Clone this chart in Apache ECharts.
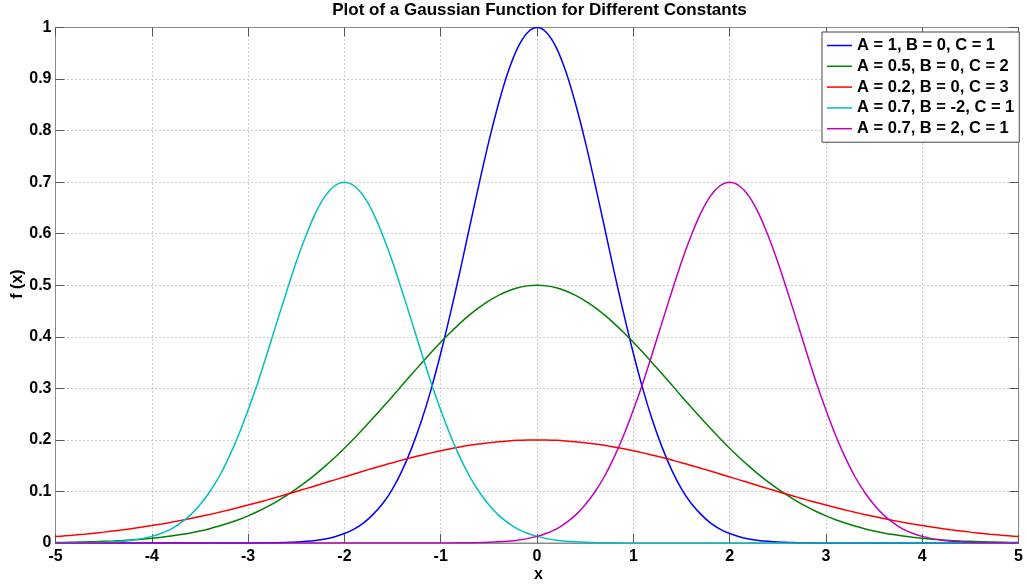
<!DOCTYPE html>
<html>
<head>
<meta charset="utf-8">
<script src="https://cdn.jsdelivr.net/npm/echarts@6/dist/echarts.min.js"></script>
<style>
  html, body { margin: 0; padding: 0; background: #fff; }
  #chart { width: 1026px; height: 585px; }
</style>
</head>
<body>
<div id="chart"></div>
<script>
// Sample positions along x (step 0.1 from -5 to 5), ten per row
const xs = [
  -5.0, -4.9, -4.8, -4.7, -4.6, -4.5, -4.4, -4.3, -4.2, -4.1,
  -4.0, -3.9, -3.8, -3.7, -3.6, -3.5, -3.4, -3.3, -3.2, -3.1,
  -3.0, -2.9, -2.8, -2.7, -2.6, -2.5, -2.4, -2.3, -2.2, -2.1,
  -2.0, -1.9, -1.8, -1.7, -1.6, -1.5, -1.4, -1.3, -1.2, -1.1,
  -1.0, -0.9, -0.8, -0.7, -0.6, -0.5, -0.4, -0.3, -0.2, -0.1,
   0.0,  0.1,  0.2,  0.3,  0.4,  0.5,  0.6,  0.7,  0.8,  0.9,
   1.0,  1.1,  1.2,  1.3,  1.4,  1.5,  1.6,  1.7,  1.8,  1.9,
   2.0,  2.1,  2.2,  2.3,  2.4,  2.5,  2.6,  2.7,  2.8,  2.9,
   3.0,  3.1,  3.2,  3.3,  3.4,  3.5,  3.6,  3.7,  3.8,  3.9,
   4.0,  4.1,  4.2,  4.3,  4.4,  4.5,  4.6,  4.7,  4.8,  4.9,
   5.0
];

// f(x) for A = 1, B = 0, C = 1
const blueVals = [
  0, 0, 0, 0, 0, 0, 0, 0, 0, 0,
  0, 0, 0, 0, 0, 0, 0, 0, 0, 0,
  0.0001, 0.0002, 0.0004, 0.0007, 0.0012, 0.0019, 0.0032, 0.0050, 0.0079, 0.0122,
  0.0183, 0.027, 0.039, 0.056, 0.077, 0.105, 0.141, 0.185, 0.237, 0.298,
  0.368, 0.445, 0.527, 0.613, 0.698, 0.779, 0.852, 0.914, 0.961, 0.990,
  1.000, 0.990, 0.961, 0.914, 0.852, 0.779, 0.698, 0.613, 0.527, 0.445,
  0.368, 0.298, 0.237, 0.185, 0.141, 0.105, 0.077, 0.056, 0.039, 0.027,
  0.0183, 0.0122, 0.0079, 0.0050, 0.0032, 0.0019, 0.0012, 0.0007, 0.0004, 0.0002,
  0.0001, 0, 0, 0, 0, 0, 0, 0, 0, 0,
  0, 0, 0, 0, 0, 0, 0, 0, 0, 0,
  0
];

// f(x) for A = 0.5, B = 0, C = 2
const greenVals = [
  0.0010, 0.0012, 0.0016, 0.0020, 0.0025, 0.0032, 0.0040, 0.0049, 0.0061, 0.0075,
  0.0092, 0.0112, 0.0135, 0.0163, 0.0196, 0.0234, 0.0278, 0.0329, 0.0387, 0.0452,
  0.0527, 0.0611, 0.0704, 0.0808, 0.0923, 0.1048, 0.1185, 0.1332, 0.1491, 0.1660,
  0.1839, 0.2028, 0.2224, 0.2428, 0.2636, 0.2849, 0.3063, 0.3277, 0.3488, 0.3695,
  0.3894, 0.4083, 0.4261, 0.4424, 0.4570, 0.4697, 0.4804, 0.4889, 0.4950, 0.4988,
  0.5000, 0.4988, 0.4950, 0.4889, 0.4804, 0.4697, 0.4570, 0.4424, 0.4261, 0.4083,
  0.3894, 0.3695, 0.3488, 0.3277, 0.3063, 0.2849, 0.2636, 0.2428, 0.2224, 0.2028,
  0.1839, 0.1660, 0.1491, 0.1332, 0.1185, 0.1048, 0.0923, 0.0808, 0.0704, 0.0611,
  0.0527, 0.0452, 0.0387, 0.0329, 0.0278, 0.0234, 0.0196, 0.0163, 0.0135, 0.0112,
  0.0092, 0.0075, 0.0061, 0.0049, 0.0040, 0.0032, 0.0025, 0.0020, 0.0016, 0.0012,
  0.0010
];

// f(x) for A = 0.2, B = 0, C = 3
const redVals = [
  0.0124, 0.0139, 0.0155, 0.0172, 0.0191, 0.0211, 0.0233, 0.0256, 0.0282, 0.0309,
  0.0338, 0.0369, 0.0402, 0.0437, 0.0474, 0.0513, 0.0554, 0.0596, 0.0641, 0.0688,
  0.0736, 0.0786, 0.0837, 0.0890, 0.0944, 0.0999, 0.1055, 0.1111, 0.1168, 0.1225,
  0.1282, 0.1339, 0.1395, 0.1451, 0.1505, 0.1558, 0.1609, 0.1658, 0.1704, 0.1748,
  0.1790, 0.1828, 0.1863, 0.1894, 0.1922, 0.1945, 0.1965, 0.1980, 0.1991, 0.1998,
  0.2000, 0.1998, 0.1991, 0.1980, 0.1965, 0.1945, 0.1922, 0.1894, 0.1863, 0.1828,
  0.1790, 0.1748, 0.1704, 0.1658, 0.1609, 0.1558, 0.1505, 0.1451, 0.1395, 0.1339,
  0.1282, 0.1225, 0.1168, 0.1111, 0.1055, 0.0999, 0.0944, 0.0890, 0.0837, 0.0786,
  0.0736, 0.0688, 0.0641, 0.0596, 0.0554, 0.0513, 0.0474, 0.0437, 0.0402, 0.0369,
  0.0338, 0.0309, 0.0282, 0.0256, 0.0233, 0.0211, 0.0191, 0.0172, 0.0155, 0.0139,
  0.0124
];

// f(x) for A = 0.7, B = -2, C = 1
const cyanVals = [
  0.0001, 0.0002, 0.0003, 0.0005, 0.0008, 0.0014, 0.0022, 0.0035, 0.0055, 0.0085,
  0.0128, 0.019, 0.027, 0.039, 0.054, 0.074, 0.099, 0.129, 0.166, 0.209,
  0.258, 0.311, 0.369, 0.429, 0.488, 0.545, 0.596, 0.640, 0.673, 0.693,
  0.700, 0.693, 0.673, 0.640, 0.596, 0.545, 0.488, 0.429, 0.369, 0.311,
  0.258, 0.209, 0.166, 0.129, 0.099, 0.074, 0.054, 0.039, 0.027, 0.019,
  0.0128, 0.0085, 0.0055, 0.0035, 0.0022, 0.0014, 0.0008, 0.0005, 0.0003, 0.0002,
  0.0001, 0, 0, 0, 0, 0, 0, 0, 0, 0,
  0, 0, 0, 0, 0, 0, 0, 0, 0, 0,
  0, 0, 0, 0, 0, 0, 0, 0, 0, 0,
  0, 0, 0, 0, 0, 0, 0, 0, 0, 0,
  0
];

// f(x) for A = 0.7, B = 2, C = 1
const magentaVals = [
  0, 0, 0, 0, 0, 0, 0, 0, 0, 0,
  0, 0, 0, 0, 0, 0, 0, 0, 0, 0,
  0, 0, 0, 0, 0, 0, 0, 0, 0, 0,
  0, 0, 0, 0, 0, 0, 0, 0, 0, 0,
  0.0001, 0.0002, 0.0003, 0.0005, 0.0008, 0.0014, 0.0022, 0.0035, 0.0055, 0.0085,
  0.0128, 0.019, 0.027, 0.039, 0.054, 0.074, 0.099, 0.129, 0.166, 0.209,
  0.258, 0.311, 0.369, 0.429, 0.488, 0.545, 0.596, 0.640, 0.673, 0.693,
  0.700, 0.693, 0.673, 0.640, 0.596, 0.545, 0.488, 0.429, 0.369, 0.311,
  0.258, 0.209, 0.166, 0.129, 0.099, 0.074, 0.054, 0.039, 0.027, 0.019,
  0.0128, 0.0085, 0.0055, 0.0035, 0.0022, 0.0014, 0.0008, 0.0005, 0.0003, 0.0002,
  0.0001
];

const seriesNames = ['A = 1, B = 0, C = 1', 'A = 0.5, B = 0, C = 2', 'A = 0.2, B = 0, C = 3', 'A = 0.7, B = -2, C = 1', 'A = 0.7, B = 2, C = 1'];
const seriesColors = ['#0000ff', '#008000', '#ff0000', '#00bfbf', '#bf00bf'];
const seriesVals = [blueVals, greenVals, redVals, cyanVals, magentaVals];

const xTicks = [-5, -4, -3, -2, -1, 0, 1, 2, 3, 4, 5];
const yTicks = [0, 0.1, 0.2, 0.3, 0.4, 0.5, 0.6, 0.7, 0.8, 0.9, 1];

const FONT = 'Liberation Sans, Arial, sans-serif';
const frameColor = '#8a8a8a';
const tickColor = '#555';

const chart = echarts.init(document.getElementById('chart'), null, { renderer: 'canvas' });

const gridLine = { show: true, lineStyle: { color: '#9a9a9a', type: [1, 3], width: 1 } };
const labelStyle = { color: '#000', fontFamily: FONT, fontWeight: 'bold', fontSize: 16 };

chart.setOption({
  animation: false,
  backgroundColor: '#fff',
  title: {
    text: 'Plot of a Gaussian Function for Different Constants',
    left: 534.5, top: -3, textAlign: 'center',
    textStyle: { fontFamily: FONT, fontWeight: 'bold', fontSize: 17, color: '#000' }
  },
  grid: { left: 55.5, right: 3.5, top: 27.5, bottom: 42, show: true, borderColor: frameColor, borderWidth: 1, backgroundColor: '#fff' },
  legend: {
    orient: 'vertical', left: 822, top: 32,
    backgroundColor: '#fff', borderColor: '#444', borderWidth: 1,
    padding: [5, 5, 5, 5], itemGap: 3.8,
    itemWidth: 25, itemHeight: 1.5, icon: 'rect',
    textStyle: { fontFamily: FONT, fontWeight: 'bold', fontSize: 16.5, color: '#000', lineHeight: 15.8 },
    data: seriesNames
  },
  xAxis: [
    {
      type: 'value', min: -5, max: 5, interval: 1, position: 'bottom',
      axisLine: { show: true, onZero: false, lineStyle: { color: frameColor } },
      axisTick: { show: true, inside: true, length: 9, lineStyle: { color: tickColor } },
      axisLabel: Object.assign({ margin: 6, formatter: v => xTicks.includes(v) ? String(v) : '' }, labelStyle),
      splitLine: gridLine
    },
    {
      type: 'value', min: -5, max: 5, interval: 1, position: 'top',
      axisLine: { show: true, onZero: false, lineStyle: { color: frameColor } },
      axisTick: { show: true, inside: true, length: 9, lineStyle: { color: tickColor } },
      axisLabel: { show: false }, splitLine: { show: false }
    }
  ],
  yAxis: [
    {
      type: 'value', min: 0, max: 1, interval: 0.1, position: 'left',
      axisLine: { show: true, onZero: false, lineStyle: { color: frameColor } },
      axisTick: { show: true, inside: true, length: 9, lineStyle: { color: tickColor } },
      axisLabel: Object.assign({ margin: 4, formatter: v => {
        const t = yTicks.find(k => Math.abs(k - v) < 1e-9);
        return t === undefined ? '' : String(t);
      } }, labelStyle),
      splitLine: gridLine
    },
    {
      type: 'value', min: 0, max: 1, interval: 0.1, position: 'right',
      axisLine: { show: true, onZero: false, lineStyle: { color: frameColor } },
      axisTick: { show: true, inside: true, length: 9, lineStyle: { color: tickColor } },
      axisLabel: { show: false }, splitLine: { show: false }
    }
  ],
  graphic: [
    { type: 'text', x: 538.5, y: 575, style: { text: 'x', fontFamily: FONT, fontWeight: 'bold', fontSize: 16, fill: '#000', align: 'center', verticalAlign: 'middle' } },
    { type: 'text', x: 18, y: 284, rotation: Math.PI / 2,
      style: { text: 'f (x)', fontFamily: FONT, fontWeight: 'bold', fontSize: 16, fill: '#000', align: 'center', verticalAlign: 'middle' } }
  ],
  series: seriesNames.map((name, i) => ({
    name: name,
    type: 'line',
    xAxisIndex: 0, yAxisIndex: 0,
    data: xs.map((x, j) => [x, seriesVals[i][j]]),
    smooth: 0.3,
    symbol: 'none',
    clip: true,
    color: seriesColors[i],
    lineStyle: { color: seriesColors[i], width: 1.5 },
    z: 3
  }))
});
</script>
</body>
</html>
